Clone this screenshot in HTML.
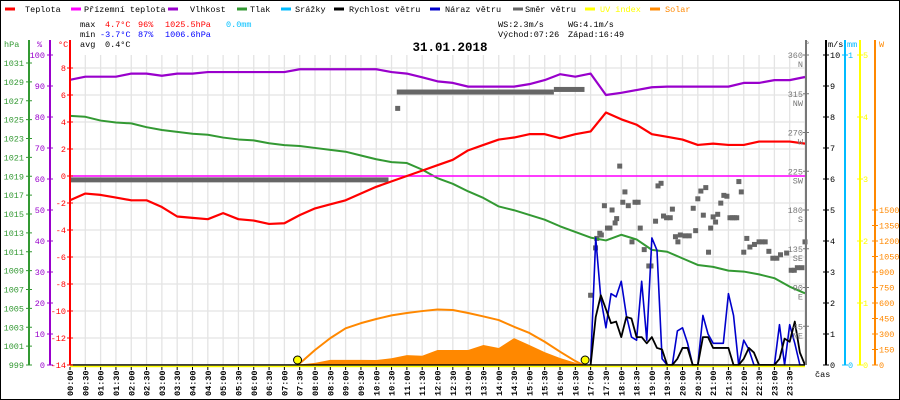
<!DOCTYPE html>
<html><head><meta charset="utf-8"><style>
html,body{margin:0;padding:0;background:#fff;}
svg{display:block;font-family:"Liberation Mono",monospace;}
</style></head><body>
<svg id="c" width="900" height="400" viewBox="0 0 900 400" xmlns="http://www.w3.org/2000/svg">
<rect x="0.5" y="0.5" width="899" height="399" fill="#fff" stroke="#000"/>
<g id="legend" font-size="8.5"></g>
<g font-size="8.5">
<text x="80" y="27" fill="#000">max</text><text x="105" y="27" fill="#f00">4.7°C</text><text x="138" y="27" fill="#f00">96%</text><text x="165" y="27" fill="#f00">1025.5hPa</text><text x="226" y="27" fill="#00bfff">0.0mm</text>
<text x="80" y="37" fill="#000">min</text><text x="100" y="37" fill="#00f">-3.7°C</text><text x="138" y="37" fill="#00f">87%</text><text x="165" y="37" fill="#00f">1006.6hPa</text>
<text x="80" y="47" fill="#000">avg</text><text x="105" y="47" fill="#000">0.4°C</text>
<text x="498" y="27">WS:2.3m/s</text><text x="568" y="27">WG:4.1m/s</text>
<text x="498" y="37">Východ:07:26</text><text x="568" y="37">Západ:16:49</text>
</g>
<text x="450" y="51" font-size="12.5" font-weight="bold" text-anchor="middle">31.01.2018</text>
<g id="grid"></g>
<g id="series"></g>
<g id="axes" font-size="8.5"></g>
</svg>
<script>
const hours = [0,0.5,1,1.5,2,2.5,3,3.5,4,4.5,5,5.5,6,6.5,7,7.5,8,8.5,9,9.5,10,10.5,11,11.5,12,12.5,13,13.5,14,14.5,15,15.5,16,16.5,17,17.5,18,18.5,19,19.5,20,20.5,21,21.5,22,22.5,23,23.5,24];
const temperature = [-1.8,-1.3,-1.4,-1.6,-1.8,-1.8,-2.3,-3.0,-3.1,-3.2,-2.75,-3.2,-3.3,-3.55,-3.5,-2.9,-2.4,-2.1,-1.8,-1.3,-0.8,-0.4,0.0,0.4,0.8,1.2,1.9,2.3,2.7,2.85,3.1,3.1,2.8,3.1,3.3,4.7,4.2,3.8,3.1,2.9,2.7,2.3,2.4,2.3,2.3,2.55,2.55,2.55,2.4];
const apparentTemp = [0,0,0,0,0,0,0,0,0,0,0,0,0,0,0,0,0,0,0,0,0,0,0,0,0,0,0,0,0,0,0,0,0,0,0,0,0,0,0,0,0,0,0,0,0,0,0,0,0];
const humidity = [92,93,93,93,94,94,93.3,94,94,94.5,94.5,94.5,94.5,94.5,94.5,95.4,95.4,95.4,95.4,95.4,95.4,94.5,94,92.8,91.5,91,89.8,89.8,89.8,89.8,90.6,91.9,93.8,93,94,87.1,87.8,88.7,89.6,89.8,89.8,89.8,89.8,89.8,91,91,91.9,91.9,92.9];
const pressure = [1025.4,1025.3,1024.9,1024.7,1024.6,1024.2,1023.9,1023.7,1023.5,1023.4,1023.1,1022.9,1022.8,1022.5,1022.3,1022.2,1022.0,1021.8,1021.6,1021.2,1020.8,1020.5,1020.4,1019.7,1018.8,1018.2,1017.4,1016.7,1015.8,1015.4,1014.9,1014.4,1013.7,1013.1,1012.5,1012.2,1012.8,1012.3,1011.2,1011.0,1010.3,1009.6,1009.4,1009.0,1008.9,1008.6,1008.2,1007.3,1006.6];
const solarTimes = [7.43,7.5,8,8.5,9,9.5,10,10.5,11,11.5,12,12.5,13,13.5,14,14.5,15,15.5,16,16.5,16.75];
const solarMax = [0,15,145,260,355,405,445,480,503,522,537,532,503,470,435,370,310,225,129,38,0];
const solarMeasured = [0,5,20,50,50,50,48,65,95,90,145,145,145,194,165,260,194,125,68,22,0];
const windTimes = [17,17.1667,17.3333,17.5,17.6667,17.8333,18,18.1667,18.3333,18.5,18.6667,18.8333,19,19.1667,19.3333,19.5,19.6667,19.8333,20,20.1667,20.3333,20.5,20.6667,20.8333,21,21.1667,21.3333,21.5,21.6667,21.8333,22,22.1667,22.3333,22.5,22.6667,22.8333,23,23.1667,23.3333,23.5,23.6667,23.8333,24];
const windSpeed = [0,1.55,2.25,1.8,1.35,1.4,0.9,1.55,1.5,0.9,0.9,0.7,0.9,0.55,0.5,0,0,0.2,0.55,0.55,0,0,0.9,0.9,0.55,0.55,0.55,0.55,0,0,0.2,0.55,0.4,0,0,0,0,0.2,0.85,0.75,1.4,0.4,0];
const windGust = [0,4.1,2.15,1.2,2.3,2.2,2.7,1.6,0.9,0.8,2.7,0.8,4.1,3.7,0.2,0,0,1.1,1.2,0.7,0,0,1.6,1.0,0.7,0.7,0.7,2.3,1.6,0,0.8,0.5,0,0,0,0,0,1.3,0,1.3,0.7,0,0];
const dirRunTimes = [0,10.67,15.8];
const dirRunEnds = [10.4,15.8,16.8];
const dirRunValues = [215,317,320];
const dirTimes = [10.7,17.0,17.16,17.2,17.3,17.35,17.45,17.55,17.63,17.7,17.8,17.85,17.95,18.05,18.12,18.23,18.35,18.45,18.55,18.62,18.75,18.9,18.97,19.12,19.2,19.3,19.38,19.48,19.6,19.67,19.77,19.85,19.93,20.08,20.22,20.35,20.43,20.5,20.6,20.68,20.76,20.85,20.92,21.0,21.08,21.15,21.25,21.35,21.45,21.55,21.63,21.7,21.77,21.84,21.92,22.0,22.1,22.2,22.35,22.5,22.6,22.7,22.82,22.95,23.08,23.2,23.4,23.55,23.65,23.75,23.9,24];
const dirValues = [298,81,136,147,153,151,185,159,159,180,165,170,231,189,201,185,143,189,189,159,134,115,115,167,208,211,173,171,171,181,149,143,151,150,150,182,156,193,202,174,206,131,159,172,166,175,188,197,196,171,171,171,171,213,201,131,147,137,140,143,143,143,132,124,124,128,130,110,110,113,113,143];
const sunTimes = [7.43,16.82];
const hpaTicks = [999,1001,1003,1005,1007,1009,1011,1013,1015,1017,1019,1021,1023,1025,1027,1029,1031];
const pctTicks = [0,10,20,30,40,50,60,70,80,90,100];
const tempTicks = [-14,-12,-10,-8,-6,-4,-2,0,2,4,6,8];
const dirTicks = [45,90,135,180,225,270,315,360];
const dirNames = ["NE","E","SE","S","SW","W","NW","N"];
const msTicks = [0,1,2,3,4,5,6,7,8,9,10];
const uvTicks = [0,1,2,3,4,5];
const wTicks = [0,150,300,450,600,750,900,1050,1200,1350,1500];
const timeLabels = [];
for(let i=0;i<48;i++){const h=Math.floor(i/2);timeLabels.push((h<10?'0':'')+h+':'+(i%2?'30':'00'));}

const X0=70,X1=805,YB=365;
const xS=h=>X0+h*(X1-X0)/24;
const yT=t=>176-t*13.5;
const yH=v=>365-v*3.1;
const yP=p=>365-(p-999)*9.4375;
const yMS=v=>365-v*31;
const yD=d=>365-d*310/360;
const yW=w=>365-w*15.5/150;
const yUV=u=>365-u*62;
const NS='http://www.w3.org/2000/svg';
function mk(tag,attrs,parent){const e=document.createElementNS(NS,tag);for(const k in attrs)e.setAttribute(k,attrs[k]);parent.appendChild(e);return e;}
const grid=document.getElementById('grid'),ser=document.getElementById('series'),ax=document.getElementById('axes'),leg=document.getElementById('legend');

// legend
const legItems=[["Teplota","#f00",5,25],["Přízemní teplota","#f0f",71,84],["Vlhkost","#90c",168,190],["Tlak","#393",237,250],["Srážky","#0bf",281,295],["Rychlost větru","#000",334,349],["Náraz větru","#00c",430,445],["Směr větru","#666",513,525],["UV index","#ff0",585,600],["Solar","#f80",650,665]];
legItems.forEach(it=>{
  const l=mk('line',{x1:it[2],x2:it[2]+10,y1:9,y2:9,stroke:it[1],'stroke-width':3},leg);
  
  
  const t=mk('text',{x:it[3],y:12,fill:(it[1]=="#ff0"||it[1]=="#f80")?it[1]:'#000'},leg);
  t.textContent=it[0];
  
  
});

// grid
for(let i=1;i<=48;i++){const x=xS(i/2);const g=mk('line',{x1:x,x2:x,y1:55,y2:YB,stroke:'#e4e4e4','stroke-width':1.3},grid);

}
tempTicks.forEach(t=>{const y=yT(t);const g=mk('line',{x1:X0,x2:X1,y1:y,y2:y,stroke:'#e4e4e4','stroke-width':1.3},grid);

});

function poly(xs,ys,color,w,name,step){
  let pts=[];
  for(let i=0;i<xs.length;i++){
    if(step&&i>0)pts.push(xs[i]+','+ys[i-1]);
    pts.push(xs[i]+','+ys[i]);
  }
  const p=mk('polyline',{points:pts.join(' '),fill:'none',stroke:color,'stroke-width':w,'stroke-linejoin':'round'},ser);
  
  
  return p;
}
// solar area
{let pts=[xS(solarTimes[0])+','+YB];solarTimes.forEach((h,i)=>pts.push(xS(h)+','+yW(solarMeasured[i])));pts.push(xS(solarTimes[solarTimes.length-1])+','+YB);
const a=mk('polygon',{points:pts.join(' '),fill:'#f80'},ser);

}
poly(solarTimes.map(xS),solarMax.map(yW),'#f80',2,'solar-max-line');
// direction
dirRunValues.forEach((d,i)=>{const r=mk('rect',{x:xS(dirRunTimes[i]),y:yD(d)-2.5,width:xS(dirRunEnds[i])-xS(dirRunTimes[i]),height:5,fill:'#666'},ser);

});
dirTimes.forEach((h,i)=>{const r=mk('rect',{x:xS(h)-2.5,y:yD(dirValues[i])-2.5,width:5,height:5,fill:'#666'},ser);

});
poly(hours.map(xS),pressure.map(yP),'#393',2,'pressure-line');
poly(hours.map(xS),apparentTemp.map(yT),'#f0f',1.5,'apparent-temp-line');
poly(hours.map(xS),humidity.map(yH),'#90c',2.2,'humidity-line');
poly(hours.map(xS),temperature.map(yT),'#f00',2.2,'temperature-line');
poly(windTimes.map(xS),windGust.map(yMS),'#00c',1.6,'wind-gust-line');
poly(windTimes.map(xS),windSpeed.map(yMS),'#000',1.8,'wind-speed-line');
// baseline + uv
{const l=mk('line',{x1:X0,x2:X1,y1:YB,y2:YB,stroke:'#000','stroke-width':1.5},ser);
const u=mk('line',{x1:X0,x2:X1,y1:YB+1.5,y2:YB+1.5,stroke:'#ff0','stroke-width':1.5},ser);}
sunTimes.forEach(h=>{const c=mk('circle',{cx:xS(h),cy:YB-5,r:4,fill:'#ff0',stroke:'#000','stroke-width':1},ser);

});

// axes
function vaxis(x,color,ticks,yf,labX,anchor,name,lbl){
  const l=mk('line',{x1:x,x2:x,y1:(name=='hpa-axis'||name=='pct-axis'||name=='temp-axis')?40:40,y2:YB,stroke:color,'stroke-width':2},ax);
  
  
  ticks.forEach((t,i)=>{const y=yf(t);mk('line',{x1:x-3,x2:x+3,y1:y,y2:y,stroke:color,'stroke-width':1},ax);
    const tx=mk('text',{x:labX,y:y+3,fill:color,'text-anchor':anchor},ax);tx.textContent=lbl?lbl(t,i):t;
    
    });
}
vaxis(29,'#393',hpaTicks,yP,24,'end','hpa-axis');
vaxis(50,'#90c',pctTicks,yH,45,'end','pct-axis');
vaxis(70,'#f00',tempTicks,yT,66,'end','temp-axis');
vaxis(806,'#777',dirTicks,yD,803,'end','direction-axis');
dirTicks.forEach((d,i)=>{const t=mk('text',{x:803,y:yD(d)+12,fill:'#777','text-anchor':'end'},ax);t.textContent=dirNames[i];

});
vaxis(826,'#000',msTicks,yMS,830,'start','wind-speed-axis');
vaxis(845,'#0bf',[0,1],v=>365-v*310,848,'start','rain-axis');
vaxis(860,'#ff0',uvTicks,yUV,863,'start','uv-axis');
{const l=mk('line',{x1:875,x2:875,y1:40,y2:YB,stroke:'#f80','stroke-width':2},ax);
wTicks.forEach(w=>{const y=yW(w);mk('line',{x1:872,x2:878,y1:y,y2:y,stroke:'#f80'},ax);const t=mk('text',{x:879,y:y+3,fill:'#f80'},ax);t.textContent=w;

});}
[["hPa",4,'#393'],["%",37,'#90c'],["°C",58,'#f00'],["°",805,'#777'],["m/s",828,'#000'],["mm",847,'#0bf'],["W",879,'#f80']].forEach(u=>{const t=mk('text',{x:u[1],y:47,fill:u[2]},ax);t.textContent=u[0];

});
{const t=mk('text',{x:815,y:377},ax);t.textContent='čas';}
timeLabels.forEach((s,i)=>{const x=xS(i/2);mk('line',{x1:x,x2:x,y1:YB+2,y2:YB+5,stroke:'#000'},ax);
const t=mk('text',{x:0,y:0,transform:`translate(${x+3},396) rotate(-90)`,'font-weight':'bold','font-size':'8.5'},ax);t.textContent=s;

});
</script>
</body></html>
